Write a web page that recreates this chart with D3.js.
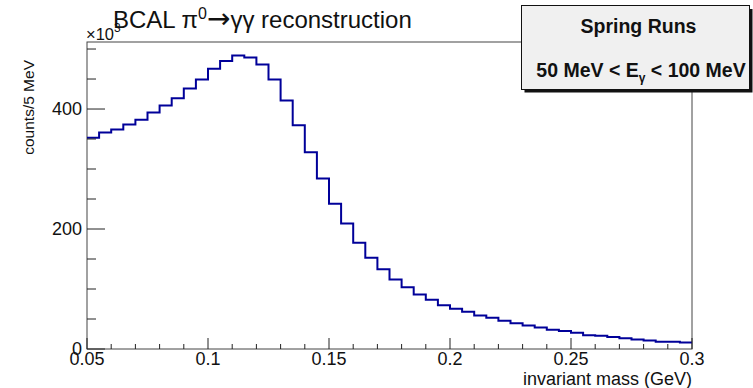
<!DOCTYPE html>
<html><head><meta charset="utf-8">
<script src="https://cdn.jsdelivr.net/npm/d3@7"></script>
<style>body{margin:0;background:#fff}svg{display:block;font-family:"Liberation Sans",Arial,sans-serif}</style>
</head><body>
<script>
const binEdges = [0.05, 0.30];
const nBins = 50;
const counts = [352,361,366,374,382,394,406,418,434,449,467,480,489,486,474,449,414,373,328,284,
  242,209,177,152,133,116,103,91,82,73,67,62,56,52,47,43,39,36,32,30,
  27,23,22,20,18,16,14,12,12,11];
const xTicks = [0.05,0.1,0.15,0.2,0.25,0.3];
const yTicks = [0,200,400];

const W=753,H=388;
const svg=d3.select("body").append("svg").attr("width",W).attr("height",H);
const x0=87,x1=692,yTop=42,yBot=349;
const x=d3.scaleLinear().domain(binEdges).range([x0,x1]);
const y=d3.scaleLinear().domain([0,511.7]).range([yBot,yTop]);
const bw=(binEdges[1]-binEdges[0])/nBins;

// frame
svg.append("rect").attr("x",x0).attr("y",yTop).attr("width",x1-x0).attr("height",yBot-yTop)
  .attr("fill","none").attr("stroke","#444").attr("stroke-width",1);

// histogram
let pts=[];
counts.forEach((c,i)=>{const a=binEdges[0]+i*bw;pts.push([x(a),y(c)]);pts.push([x(a+bw),y(c)]);});
svg.append("path").attr("d",d3.line()(pts)).attr("fill","none").attr("stroke","#000099").attr("stroke-width",2);

// x axis ticks
const xMinor=d3.range(0.05,0.3001,0.01);
svg.append("g").selectAll("line").data(xMinor).join("line")
  .attr("x1",d=>x(d)).attr("x2",d=>x(d)).attr("y1",yBot)
  .attr("y2",d=>Math.abs(Math.round(d*100)%5)===0?yBot-11:yBot-5).attr("stroke","#222");
svg.append("g").selectAll("text").data(xTicks).join("text")
  .attr("x",d=>x(d)).attr("y",365).attr("text-anchor","middle").attr("font-size",18).attr("fill","#111")
  .text(d=>d3.format("")(d));
// y axis ticks
const yMinor=d3.range(0,511,50);
svg.append("g").selectAll("line").data(yMinor).join("line")
  .attr("x1",x0).attr("x2",d=>d%200===0?x0+18:x0+9).attr("y1",d=>y(d)).attr("y2",d=>y(d)).attr("stroke","#222");
svg.append("g").selectAll("text").data(yTicks).join("text")
  .attr("x",x0-5).attr("y",d=>y(d)+6).attr("text-anchor","end").attr("font-size",18).attr("fill","#111")
  .text(d=>d);
svg.append("text").attr("x",x0-1).attr("y",yTop-2).attr("font-size",16.5).attr("fill","#111")
  .html('×10<tspan dy="-8" font-size="12">3</tspan>');

// axis titles
svg.append("text").attr("transform",`translate(34,60) rotate(-90)`).attr("text-anchor","end")
  .attr("font-size",15.5).attr("fill","#111").text("counts/5 MeV");
svg.append("text").attr("x",x1).attr("y",385).attr("text-anchor","end").attr("font-size",18).attr("fill","#111")
  .text("invariant mass (GeV)");

// title
svg.append("text").attr("x",113).attr("y",28).attr("font-size",24).attr("fill","#111")
  .html('BCAL π<tspan dy="-9" font-size="16">0</tspan><tspan dy="9" font-family="DejaVu Sans" font-size="28">→</tspan><tspan>γγ reconstruction</tspan>');

// stats box
svg.append("rect").attr("x",524.5).attr("y",9).attr("width",228).attr("height",83.5).attr("fill","#111");
svg.append("rect").attr("x",521.5).attr("y",5.5).attr("width",228).attr("height",84).attr("fill","#f0f0f0").attr("stroke","#111");
svg.append("text").attr("x",638.5).attr("y",33).attr("text-anchor","middle").attr("font-size",19.5).attr("font-weight","bold").attr("fill","#111").text("Spring Runs");
svg.append("text").attr("x",641).attr("y",77).attr("text-anchor","middle").attr("font-size",19.5).attr("font-weight","bold").attr("fill","#111")
  .html('50 MeV &lt; E<tspan dy="5" font-size="12">γ</tspan><tspan dy="-5"> &lt; 100 MeV</tspan>');
</script>
</body></html>
